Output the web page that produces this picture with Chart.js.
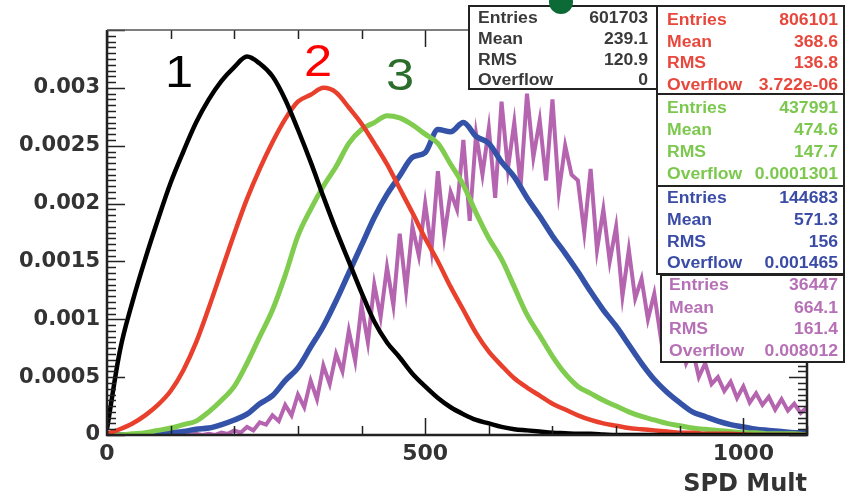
<!DOCTYPE html>
<html>
<head>
<meta charset="utf-8">
<script src="https://cdn.jsdelivr.net/npm/chart.js@4.4.0/dist/chart.umd.min.js"></script>
<style>
  html, body { margin: 0; padding: 0; background: #fff; }
  #wrap { width: 848px; height: 500px; }
</style>
</head>
<body>
<div id="wrap"><canvas id="spdChart" width="848" height="500"></canvas></div>
<script>
// SPD multiplicity distributions, 5 classes, normalised to unit area
const xs20 = [0,20,40,60,80,100,120,140,160,180,200,220,240,260,280,300,320,340,360,380,
  400,420,440,460,480,500,520,540,560,580,600,620,640,660,680,700,720,740,760,780,
  800,820,840,860,880,900,920,940,960,980,1000,1020,1040,1060,1080,1100];
const xs10 = [0,10,20,30,40,50,60,70,80,90,100,110,120,130,140,150,160,170,180,190,
  200,210,220,230,240,250,260,270,280,290,300,310,320,330,340,350,360,370,380,390,
  400,410,420,430,440,450,460,470,480,490,500,510,520,530,540,550,560,570,580,590,
  600,610,620,630,640,650,660,670,680,690,700,710,720,730,740,750,760,770,780,790,
  800,810,820,830,840,850,860,870,880,890,900,910,920,930,940,950,960,970,980,990,
  1000,1010,1020,1030,1040,1050,1060,1070,1080,1090,1100];

const black = [0.00005,0.00072,0.00115,0.00152,0.00186,0.00218,0.00245,0.0027,0.0029,0.00306,
  0.00318,0.00327,0.00321,0.0031,0.0029,0.00264,0.00236,0.00206,0.00177,0.0015,
  0.00123,0.00098,0.0008,0.00067,0.00053,0.00042,0.00032,0.00024,0.00018,0.00013,
  0.0001,0.00007,0.00005,0.00004,0.00003,0.00002,0.000015,0.00001,0.00001,0.000005,
  0,0,0,0,0,0,0,0,0,0,
  0,0,0,0,0,0];
const red = [0.00001,0.00005,0.0001,0.00017,0.00026,0.00038,0.00056,0.0008,0.0011,0.00142,
  0.00174,0.00204,0.0023,0.00253,0.00273,0.00288,0.00294,0.003,0.00296,0.00283,
  0.00269,0.00252,0.00234,0.00213,0.00192,0.0017,0.0015,0.00128,0.00108,0.00088,
  0.00072,0.0006,0.00049,0.00041,0.00034,0.00027,0.00022,0.00017,0.00013,0.0001,
  0.00008,0.00006,0.00005,0.00004,0.00003,0.00002,0.00002,0.00001,0.00001,0.00001,
  0.000005,0,0,0,0,0];
const green = [0,0,0.00001,0.00002,0.00004,0.00006,0.00009,0.00012,0.0002,0.0003,
  0.00042,0.00062,0.00085,0.00108,0.00138,0.00172,0.00195,0.00215,0.00232,0.00252,
  0.00264,0.0027,0.00276,0.00274,0.00268,0.0026,0.00252,0.00234,0.00216,0.00192,
  0.0017,0.00152,0.00128,0.00104,0.00086,0.00068,0.00053,0.00042,0.00036,0.0003,
  0.00025,0.0002,0.00016,0.00013,0.0001,0.00008,0.00006,0.00005,0.00004,0.00003,
  0.00002,0.00002,0.00001,0.00001,0.00001,0];
const blue = [0,0,0,0.00001,0.00001,0.00002,0.00003,0.00005,0.00006,0.00009,
  0.00013,0.00018,0.00027,0.00034,0.00047,0.00058,0.00076,0.00094,0.00116,0.0014,
  0.00164,0.00188,0.00208,0.00224,0.0024,0.00244,0.00264,0.00262,0.0027,0.00258,
  0.00252,0.00236,0.00223,0.00205,0.00189,0.00172,0.00157,0.00141,0.00124,0.00108,
  0.00094,0.00078,0.00062,0.00048,0.00037,0.00028,0.0002,0.00016,0.00012,0.00009,
  0.00007,0.00005,0.00004,0.00003,0.00002,0.00002];
// class 5 has few entries, so it is binned finer and very noisy
const purple = [0,0,0,0,0,0,0,0,0,0,
  0,0,0,0,0.00001,0,0.00001,0,0.00002,0.00001,
  0.00004,0.00002,0.00007,0.00004,0.00011,0.00009,0.00017,0.00012,0.00026,0.00017,
  0.00035,0.00024,0.00047,0.00031,0.0006,0.00044,0.0007,0.00055,0.0009,0.00064,
  0.00112,0.0008,0.0013,0.00102,0.00145,0.00112,0.00174,0.00125,0.0018,0.00155,
  0.002,0.0016,0.00228,0.00172,0.0021,0.00195,0.00255,0.00185,0.0026,0.00225,
  0.00265,0.00205,0.00288,0.0023,0.0027,0.00215,0.00295,0.0024,0.00272,0.0022,
  0.0029,0.0021,0.0025,0.00225,0.0022,0.00175,0.0023,0.0016,0.00195,0.0015,
  0.0018,0.0012,0.0016,0.00118,0.00135,0.001,0.00122,0.00085,0.00105,0.00075,
  0.00086,0.00062,0.00074,0.0005,0.00062,0.00044,0.0005,0.00038,0.00046,0.00032,
  0.00042,0.00028,0.00036,0.00026,0.00033,0.00022,0.00031,0.00021,0.00027,0.00019,
  0.00024];

const xTicks = [0, 500, 1000];
const xTickLabels = ['0', '500', '1000'];
const yTicks = [0, 0.0005, 0.001, 0.0015, 0.002, 0.0025, 0.003];
const yTickLabels = ['0', '0.0005', '0.001', '0.0015', '0.002', '0.0025', '0.003'];

const statNames = ['Entries', 'Mean', 'RMS', 'Overflow'];
const statValues = [
  ['601703', '239.1', '120.9', '0'],
  ['806101', '368.6', '136.8', '3.722e-06'],
  ['437991', '474.6', '147.7', '0.0001301'],
  ['144683', '571.3', '156', '0.001465'],
  ['36447', '664.1', '161.4', '0.008012']
];

function points(xs, ys) {
  return ys.map((v, i) => ({ x: xs[i], y: v }));
}

// frame with ROOT-style inward ticks on all four sides
const frameAndTicks = {
  id: 'frameAndTicks',
  afterDatasetsDraw(chart) {
    const { ctx, chartArea: a, scales: { x, y } } = chart;
    ctx.save();
    ctx.strokeStyle = '#222';
    ctx.lineWidth = 1.5;
    ctx.beginPath();
    for (let i = 0; i <= 70; i++) {
      const py = Math.round(y.getPixelForValue(i * 0.00005)) + 0.5;
      const len = i % 10 === 0 ? 18 : 9;
      ctx.moveTo(a.left, py); ctx.lineTo(a.left + len, py);
      ctx.moveTo(a.right, py); ctx.lineTo(a.right - len, py);
    }
    for (let v = 0; v <= 1100; v += 100) {
      const px = Math.round(x.getPixelForValue(v)) + 0.5;
      const len = v % 500 === 0 ? 17 : 9;
      ctx.moveTo(px, a.bottom); ctx.lineTo(px, a.bottom - len);
      ctx.moveTo(px, a.top); ctx.lineTo(px, a.top + len);
    }
    ctx.stroke();
    ctx.lineWidth = 2.5;
    ctx.beginPath();
    ctx.moveTo(a.left, a.top); ctx.lineTo(a.left, a.bottom); ctx.lineTo(a.right, a.bottom); ctx.lineTo(a.right, a.top);
    ctx.stroke();
    ctx.strokeStyle = '#555';
    ctx.lineWidth = 1.5;
    ctx.beginPath();
    ctx.moveTo(a.left, a.top); ctx.lineTo(a.right, a.top);
    ctx.stroke();

    // class numbers
    ctx.font = '44px "Liberation Sans", Arial, sans-serif';
    ctx.textBaseline = 'alphabetic';
    [['1', 165, 87, '#000'], ['2', 304, 76, '#ff0000'], ['3', 386, 90, '#2b6e2b']].forEach(([t, tx, ty, c]) => {
      ctx.save();
      ctx.translate(tx, ty);
      ctx.scale(1.15, 1);
      ctx.fillStyle = c;
      ctx.fillText(t, 0, 0);
      ctx.restore();
    });
    ctx.restore();
  }
};

// stat boxes in the top right corner
const statBoxes = {
  id: 'statBoxes',
  afterDraw(chart) {
    const ctx = chart.ctx;
    const boxes = [
      { x: 469, y: 6, w: 188, h: 83, color: '#3a3a3a', rows: [19, 40, 61, 81], lx: 478, vx: 648 },
      { x: 657, y: 6, w: 187, h: 88, color: '#e8473c', rows: [21, 43, 64, 86], lx: 667, vx: 838 },
      { x: 657, y: 94, w: 187, h: 92, color: '#7cc84e', rows: [109, 131, 153, 175], lx: 667, vx: 838 },
      { x: 657, y: 186, w: 187, h: 88, color: '#3a4ca6', rows: [199, 221, 243, 264], lx: 667, vx: 838 },
      { x: 661, y: 275, w: 183, h: 87, color: '#b670b6', rows: [286, 309, 330, 352], lx: 669, vx: 838 }
    ];
    ctx.save();
    boxes.forEach((b, k) => {
      ctx.fillStyle = '#fff';
      ctx.fillRect(b.x, b.y, b.w, b.h);
      ctx.strokeStyle = '#222';
      ctx.lineWidth = 2;
      ctx.strokeRect(b.x, b.y, b.w, b.h);
      ctx.fillStyle = b.color;
      ctx.font = 'bold 16px "Liberation Sans", Arial, sans-serif';
      ctx.textBaseline = 'middle';
      statNames.forEach((name, r) => {
        ctx.save();
        ctx.translate(b.lx, b.rows[r]);
        ctx.scale(1.1, 1);
        ctx.textAlign = 'left';
        ctx.fillText(name, 0, 0);
        ctx.restore();
        ctx.save();
        ctx.translate(b.vx, b.rows[r]);
        ctx.scale(1.1, 1);
        ctx.textAlign = 'right';
        ctx.fillText(statValues[k][r], 0, 0);
        ctx.restore();
      });
    });
    // edge of a logo cut off at the top of the figure
    ctx.fillStyle = '#0b6a36';
    ctx.beginPath();
    ctx.arc(561, 2, 12, 0, Math.PI * 2);
    ctx.fill();
    ctx.restore();
  }
};

const smooth = { cubicInterpolationMode: 'monotone' };

const ctx = document.getElementById('spdChart').getContext('2d');
const spdChart = new Chart(ctx, {
  type: 'line',
  data: {
    datasets: [
      { data: points(xs20, black), borderColor: '#000000', borderWidth: 4.5, ...smooth },
      { data: points(xs20, red), borderColor: '#e8402c', borderWidth: 4.5, ...smooth },
      { data: points(xs20, green), borderColor: '#80cc4e', borderWidth: 5, ...smooth },
      { data: points(xs20, blue), borderColor: '#3453a8', borderWidth: 5.5, ...smooth },
      { data: points(xs10, purple), borderColor: '#b564b0', borderWidth: 4 }
    ]
  },
  options: {
    responsive: false,
    animation: false,
    devicePixelRatio: 1,
    elements: { point: { radius: 0 }, line: { tension: 0, fill: false } },
    layout: { padding: { top: 30, right: 41, left: 0, bottom: 0 } },
    plugins: { legend: { display: false }, tooltip: { enabled: false } },
    scales: {
      x: {
        type: 'linear',
        min: 0,
        max: 1100,
        afterBuildTicks: s => { s.ticks = xTicks.map(v => ({ value: v })); },
        afterFit: s => { s.height = 65; },
        grid: { display: false, drawTicks: false },
        border: { display: false },
        ticks: {
          padding: 6,
          color: '#333',
          autoSkip: false,
          maxRotation: 0,
          font: { family: 'DejaVu Sans', size: 22, weight: 'bold' },
          callback: (v, i) => xTickLabels[i]
        },
        title: {
          display: true,
          text: 'SPD Mult',
          align: 'end',
          color: '#333',
          font: { family: 'DejaVu Sans', size: 24, weight: 'bold' },
          padding: { top: 0, bottom: 1 }
        }
      },
      y: {
        type: 'linear',
        min: 0,
        max: 0.0035,
        afterBuildTicks: s => { s.ticks = yTicks.map(v => ({ value: v })); },
        afterFit: s => { s.width = 107; },
        grid: { display: false, drawTicks: false },
        border: { display: false },
        ticks: {
          padding: 7,
          color: '#333',
          autoSkip: false,
          font: { family: 'DejaVu Sans', size: 21, weight: 'bold' },
          callback: (v, i) => yTickLabels[i]
        }
      }
    }
  },
  plugins: [frameAndTicks, statBoxes]
});
</script>
</body>
</html>
